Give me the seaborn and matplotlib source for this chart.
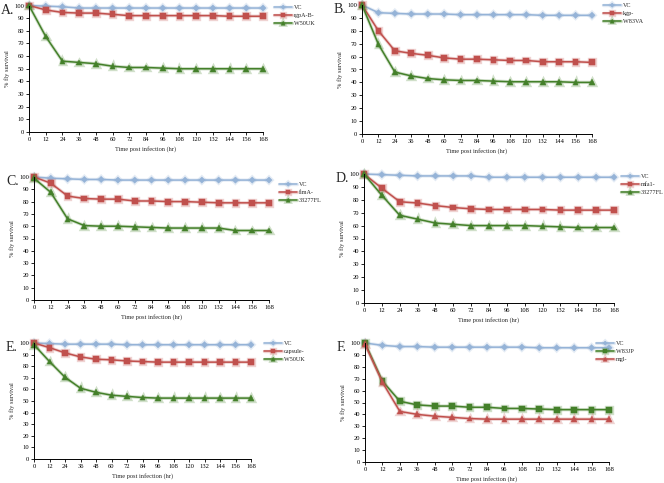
import numpy as np
import pandas as pd
import matplotlib
matplotlib.use("Agg")
import matplotlib.pyplot as plt
import matplotlib.patheffects as pe
import seaborn as sns

# =================================================================
# DATOS
# =================================================================
hours = [0, 12, 24, 36, 48, 60, 72, 84, 96, 108, 120, 132, 144, 156, 168]

a_vc = [100, 99.5, 99, 98, 98, 98, 98, 98, 98, 98, 98, 98, 98, 98, 98]
a_mut = [100, 96.5, 94.5, 94, 94, 93, 92, 92, 92, 92, 92, 92, 91.5, 91.5, 91.5]
a_wt = [100, 75.5, 56, 55, 54, 52, 51, 51, 50.5, 50, 50, 50, 50, 50, 50]

b_vc = [100, 94, 93.5, 93, 93, 93, 92.5, 92.5, 92.5, 92.5, 92.5, 92, 92, 92, 92]
b_mut = [100, 80, 64.5, 62.5, 61, 59, 58, 58, 57.5, 57, 57, 56, 56, 56, 55.5]
b_wt = [100, 69.5, 48, 45, 43, 42, 41.5, 41.5, 41, 40.5, 40.5, 40.5, 40.5, 40, 40]

c_vc = [100, 99, 98.5, 98, 98, 97.5, 97.5, 97.5, 97.5, 97.5, 97.5, 97.5, 97.5, 97.5, 97.5]
c_mut = [100, 95, 84.5, 82.5, 82, 82, 80.5, 80.5, 80, 80, 79.5, 79, 79, 79, 79]
c_wt = [99, 87.5, 66, 60.5, 60, 60, 59.5, 59, 58.5, 58.5, 58.5, 58.5, 56.5, 56.5, 56.5]

d_vc = [100, 99.5, 99, 98.5, 98.5, 98.5, 98.5, 97.5, 97.5, 97.5, 97.5, 97.5, 97.5, 97.5, 97.5]
d_mut = [100, 89, 78.5, 77.5, 75.5, 74, 73, 72.5, 72.5, 72.5, 72.5, 72, 72, 72, 72]
d_wt = [100, 83.5, 68, 65, 62, 61, 60, 60, 60, 60, 59.5, 59, 58.5, 58.5, 58.5]

e_vc = [100, 99.5, 99, 99, 99, 99, 98.5, 98.5, 98.5, 98.5, 98.5, 98.5, 98.5, 98.5, 98.5]
e_mut = [100, 96, 91.5, 88, 86, 85.5, 84.5, 84, 83.5, 83.5, 83.5, 83.5, 83.5, 83.5, 83.5]
e_wt = [98.5, 84, 70.5, 61, 57.5, 55, 54, 53, 52.5, 52.5, 52.5, 52.5, 52.5, 52.5, 52.5]

f_vc = [100, 98, 97, 97, 96.5, 96.5, 96.5, 96.5, 96.5, 96.5, 96, 96, 96, 96, 96]
f_wt = [100, 68, 51, 48, 47, 47, 46, 46, 45, 45, 44.5, 44, 44, 44, 44]
f_mut = [99, 67, 42.5, 40, 38.5, 37.5, 36.5, 36, 36, 36, 36, 36, 36, 36, 36]

AZUL = '#95B3D7'
ROJO = '#C0504D'
VERDE = '#44802A'

# cada panel: letra, series (etiqueta, valores, color, marcador),
# posición en px (x0, x1, ytop, ybottom) y esquina de la leyenda (x, y)
paneles = [
    ('A.', [('VC', a_vc, AZUL, 'D'), ('rgpA-B-', a_mut, ROJO, 's'), ('W50UK', a_wt, VERDE, '^')],
     (29, 263, 5.5, 132), (274, 5)),
    ('B.', [('VC', b_vc, AZUL, 'D'), ('kgp-', b_mut, ROJO, 's'), ('W83VA', b_wt, VERDE, '^')],
     (362, 592, 5, 134), (603, 3)),
    ('C.', [('VC', c_vc, AZUL, 'D'), ('fimA-', c_mut, ROJO, 's'), ('33277FL', c_wt, VERDE, '^')],
     (34, 269, 177, 300), (279, 182)),
    ('D.', [('VC', d_vc, AZUL, 'D'), ('mfa1-', d_mut, ROJO, 's'), ('33277FL', d_wt, VERDE, '^')],
     (364, 614, 174, 303), (621, 174)),
    ('E.', [('VC', e_vc, AZUL, 'D'), ('capsule-', e_mut, ROJO, 's'), ('W50UK', e_wt, VERDE, '^')],
     (34, 251, 343, 459), (264, 341)),
    ('F.', [('VC', f_vc, AZUL, 'D'), ('W83JP', f_wt, VERDE, 's'), ('mgl-', f_mut, ROJO, '^')],
     (365, 609, 343, 462), (596, 341)),
]

sns.set_theme(style='ticks')
plt.rcParams['font.family'] = ['Liberation Serif', 'DejaVu Serif']

W, H = 664, 483
fig = plt.figure(figsize=(W / 100, H / 100), dpi=100)

for letra, series, (x0, x1, yt, yb), (lx, ly) in paneles:
    ax = fig.add_axes([x0 / W, 1 - yb / H, (x1 - x0) / W, (yb - yt) / H])
    for etiqueta, valores, color, marcador in series:
        msize = 3.2 if marcador == 'D' else 4.2
        sns.lineplot(x=hours, y=valores, ax=ax, color=color, marker=marcador,
                     markersize=msize, markeredgewidth=0.3, markeredgecolor=color,
                     linewidth=1.1, label=etiqueta, clip_on=False,
                     path_effects=[pe.Stroke(linewidth=2.4, foreground=color, alpha=0.25), pe.Normal()])
    ax.set_xlim(0, 168)
    ax.set_ylim(0, 100)
    ax.set_xticks(hours)
    ax.set_yticks(range(0, 101, 10))
    ax.tick_params(axis='both', labelsize=4.7, length=2, width=0.6, pad=1.5, colors='black')
    for s in ['top', 'right']:
        ax.spines[s].set_visible(False)
    for s in ['left', 'bottom']:
        ax.spines[s].set_linewidth(0.7)
        ax.spines[s].set_color('black')
    ax.set_xlabel('Time post infection (hr)', fontsize=4.6, labelpad=3)
    ax.set_ylabel('% fly survival', fontsize=4.6, labelpad=3)
    ax.legend(loc='upper left', bbox_to_anchor=(lx / W, 1 - ly / H),
              bbox_transform=fig.transFigure, frameon=False, fontsize=4.4,
              handlelength=3.0, handletextpad=0.2, labelspacing=0.45,
              markerscale=0.7, borderaxespad=0, borderpad=0)
    fig.text((x0 - 28) / W, 1 - (yt - 2) / H, letra, fontsize=10, va='top', ha='left')

fig.savefig('out.png', dpi=100)
